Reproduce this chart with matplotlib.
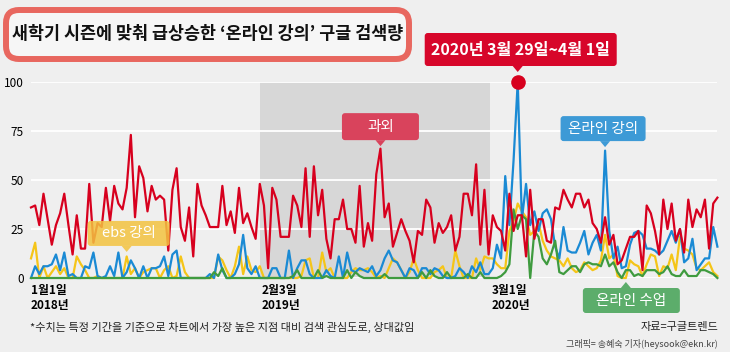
import numpy as np
import matplotlib
matplotlib.use('Agg')
import matplotlib.pyplot as plt
from matplotlib.patches import FancyBboxPatch, Polygon
from matplotlib.transforms import IdentityTransform

plt.rcParams['font.family'] = ['Noto Sans CJK KR', 'DejaVu Sans']

# 구글트렌드 주간 검색 관심도 (상대값, 2018년 1월 ~)
gwaoe = [36, 37, 27, 43, 30, 17, 27, 33, 43, 27,
         12, 32, 15, 15, 48, 18, 28, 26, 46, 29,
         47, 38, 35, 46, 73, 31, 57, 51, 34, 47,
         40, 42, 40, 14, 45, 56, 26, 19, 36, 11,
         48, 37, 32, 26, 26, 26, 47, 27, 34, 23,
         46, 28, 33, 26, 20, 48, 37, 5, 46, 40,
         21, 21, 21, 42, 37, 26, 56, 21, 57, 32,
         45, 20, 10, 30, 30, 40, 25, 25, 18, 47,
         16, 28, 19, 53, 66, 31, 38, 16, 23, 30,
         24, 19, 8, 24, 22, 40, 36, 18, 28, 23,
         26, 32, 14, 21, 43, 43, 32, 58, 17, 45,
         12, 32, 26, 24, 14, 43, 24, 32, 32, 11,
         45, 20, 30, 30, 19, 18, 36, 35, 45, 40,
         36, 43, 43, 36, 40, 28, 25, 18, 31, 17,
         22, 7, 9, 15, 21, 21, 24, 4, 37, 33,
         24, 12, 40, 25, 38, 19, 25, 13, 40, 26,
         35, 31, 40, 15, 38, 41]

online_lecture = [0, 6, 2, 6, 6, 7, 12, 4, 13, 1,
                  2, 0, 0, 6, 5, 13, 1, 0, 1, 6,
                  1, 13, 0, 3, 9, 5, 0, 6, 0, 5,
                  5, 6, 11, 1, 12, 14, 0, 0, 0, 0,
                  0, 0, 0, 2, 0, 12, 4, 0, 0, 2,
                  7, 22, 5, 2, 6, 0, 0, 0, 5, 5,
                  0, 0, 14, 0, 5, 9, 9, 2, 0, 0,
                  0, 4, 1, 0, 11, 0, 13, 4, 3, 5,
                  4, 3, 6, 1, 4, 10, 14, 9, 8, 4,
                  0, 5, 4, 0, 5, 5, 2, 5, 4, 1,
                  0, 0, 1, 5, 3, 0, 6, 3, 8, 2,
                  2, 5, 17, 10, 52, 27, 60, 100, 30, 48,
                  27, 34, 24, 33, 35, 30, 16, 10, 26, 14,
                  13, 13, 18, 24, 12, 18, 22, 14, 65, 24,
                  10, 16, 5, 6, 17, 23, 24, 22, 15, 15,
                  14, 12, 14, 19, 24, 18, 25, 8, 10, 20,
                  4, 7, 10, 10, 26, 16]

ebs_lecture = [10, 18, 0, 6, 0, 3, 6, 2, 5, 0,
               0, 11, 7, 4, 0, 0, 1, 0, 0, 0,
               0, 0, 0, 11, 2, 5, 0, 3, 4, 5,
               5, 0, 4, 6, 0, 1, 11, 3, 0, 0,
               0, 0, 0, 0, 0, 11, 9, 4, 0, 6,
               16, 2, 11, 4, 3, 6, 0, 0, 0, 0,
               0, 0, 0, 0, 0, 1, 9, 10, 0, 0,
               13, 3, 5, 0, 0, 0, 0, 3, 5, 4,
               4, 5, 3, 0, 1, 0, 5, 10, 8, 4,
               0, 3, 10, 4, 0, 0, 0, 3, 4, 6,
               0, 0, 14, 6, 0, 0, 0, 10, 4, 11,
               10, 10, 7, 5, 5, 24, 29, 38, 34, 31,
               22, 24, 28, 19, 14, 11, 10, 9, 6, 10,
               5, 3, 4, 8, 6, 4, 5, 9, 22, 10,
               12, 1, 0, 0, 9, 7, 6, 1, 7, 12,
               11, 1, 6, 5, 12, 4, 21, 15, 14, 12,
               5, 4, 6, 8, 3, 1]

online_class = [0] * 44 + [3, 1, 5, 0, 0, 0,
                0, 0, 0, 0, 0, 0, 0, 0, 0, 0,
                0, 0, 0, 1, 4, 0, 0, 0, 0, 4,
                0, 1, 0, 0, 0, 0, 4, 0, 3, 1,
                0, 0, 0, 0, 0, 2, 0, 0, 0, 0,
                0, 0, 0, 0, 3, 0, 4, 1, 0, 0,
                3, 0, 0, 0, 0, 2, 0, 0, 3, 0,
                0, 0, 0, 1, 3, 7, 35, 25, 32, 30,
                0, 24, 21, 10, 7, 12, 19, 3, 2, 4,
                6, 6, 3, 7, 8, 7, 7, 6, 12, 6,
                8, 3, 0, 4, 4, 1, 2, 1, 4, 4,
                4, 2, 3, 6, 2, 1, 1, 4, 1, 1,
                1, 4, 4, 3, 2, 0]

tick_pos = [0, 55.5, 110.8]
tick_labels = ['1월1일\n2018년', '2월3일\n2019년', '3월1일\n2020년']
y_ticks = [0, 25, 50, 75, 100]
shade_range = (55, 110.3)

# 말풍선이 가리키는 주 (index)
gwaoe_pt = 84
lecture_pt2 = 138
ebs_pt = 23
class_pt = 143

RED = '#d7001e'
BLUE = '#1a8ad4'
YELLOW = '#f5c518'
GREEN = '#3f9b3f'
BG = '#efefef'

W, H = 730, 352
fig = plt.figure(figsize=(W / 100, H / 100), dpi=100, facecolor=BG)
ax = fig.add_axes([31 / W, 74 / H, 686.4 / W, 196 / H])
ax.set_facecolor(BG)
x = np.arange(len(gwaoe))
ax.set_xlim(0, len(gwaoe) - 1)
ax.set_ylim(0, 100)

ax.axvspan(*shade_range, color='#d7d7d7', lw=0, zorder=0.2)
ax.set_yticks(y_ticks)
ax.yaxis.grid(True, color='white', lw=1.3, zorder=0.5)
ax.set_axisbelow(True)
for s in ax.spines.values():
    s.set_visible(False)

ax.plot(x, ebs_lecture, color=YELLOW, lw=1.6, clip_on=False, zorder=2)
ax.plot(x, online_lecture, color=BLUE, lw=1.6, clip_on=False, zorder=3)
ax.plot(x, online_class, color=GREEN, lw=1.6, clip_on=False, zorder=4)
ax.plot(x, gwaoe, color=RED, lw=1.6, clip_on=False, zorder=5)

ax.set_xticks(tick_pos, tick_labels, ha='left', fontsize=8.5, fontweight='bold',
              linespacing=1.25)
ax.tick_params(axis='x', length=0, pad=4)
ax.tick_params(axis='y', length=0, pad=5, labelsize=8.5)

peak = int(np.argmax(online_lecture))
ax.scatter([peak], [online_lecture[peak]], s=90, color=RED, zorder=12, clip_on=False)

idt = IdentityTransform()


def callout(xv, yv, dx, dy, w, h, text, color, size, tip='down', alpha=1.0,
            tip_len=6, weight='normal'):
    px, py = ax.transData.transform((xv, yv))
    cx, cy = px + dx, py + dy
    fig.add_artist(FancyBboxPatch((cx - w / 2, cy - h / 2), w, h,
                                  boxstyle='round,pad=0,rounding_size=3',
                                  fc=color, ec='none', alpha=alpha,
                                  transform=idt, zorder=10))
    if tip == 'down':
        yb = cy - h / 2
        tri = [[px - 5, yb], [px + 5, yb], [px, yb - tip_len]]
    else:
        yb = cy + h / 2
        tri = [[px - 5, yb], [px + 5, yb], [px, yb + tip_len]]
    fig.add_artist(Polygon(tri, closed=True, fc=color, ec='none', alpha=alpha,
                           transform=idt, zorder=10))
    fig.text(cx, cy, text, transform=idt, ha='center', va='center', color='white',
             fontsize=size, fontweight=weight, zorder=11)


callout(peak, online_lecture[peak], 3, 32.5, 192, 33, '2020년 3월 29일~4월 1일',
        '#d7062a', 11.5, weight='bold')
callout(gwaoe_pt, gwaoe[gwaoe_pt], 0, 22, 77, 27, '과외', '#d9435c', 10.5)
callout(lecture_pt2, online_lecture[lecture_pt2], -2, 22, 85, 25, '온라인 강의', '#3d9ad6', 10.5)
callout(ebs_pt, ebs_lecture[ebs_pt], 2, 23, 82, 25, 'ebs 강의', '#f3c340', 10.5, alpha=0.85)
callout(class_pt, 0, 5.5, -22.5, 97, 25, '온라인 수업', '#5cad6b', 10.5, tip='up')

# 제목 박스
fig.add_artist(FancyBboxPatch((6, H - 59), 403, 49, boxstyle='round,pad=0,rounding_size=13',
                              fc='#f6f6f6', ec='#e8675f', lw=4.3, transform=idt, zorder=5))
fig.text(208, H - 34, '새학기 시즌에 맞춰 급상승한 ‘온라인 강의’ 구글 검색량', transform=idt,
         ha='center', va='center', fontsize=12.5, fontweight='bold', color='#111111', zorder=6)

fig.text(30, 25, '*수치는 특정 기간을 기준으로 차트에서 가장 높은 지점 대비 검색 관심도로, 상대값임',
         transform=idt, ha='left', va='center', fontsize=8, color='#222222')
fig.text(718, 25, '자료=구글트렌드', transform=idt, ha='right', va='center', fontsize=8,
         color='#222222')
fig.text(718, 8, '그래픽= 송혜숙 기자(heysook@ekn.kr)', transform=idt, ha='right', va='center',
         fontsize=6.5, color='#444444')

fig.savefig('out.png', dpi=100, facecolor=BG)
